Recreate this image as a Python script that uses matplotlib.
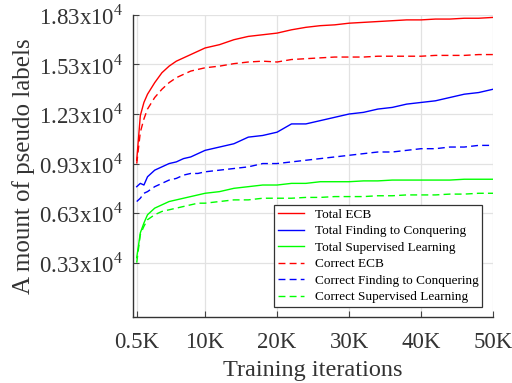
import numpy as np
import matplotlib.pyplot as plt

plt.rcParams['font.family'] = ['Liberation Serif', 'DejaVu Serif']
plt.rcParams['mathtext.fontset'] = 'custom'
plt.rcParams['mathtext.rm'] = 'Liberation Serif'

# training iterations
iters = [500, 1000, 1500, 2000, 3000, 4000, 5000, 6000, 7000, 8000, 9000, 10000,
         12000, 14000, 16000, 18000, 20000, 22000, 24000, 26000, 28000, 30000,
         32000, 34000, 36000, 38000, 40000, 42000, 44000, 46000, 48000, 50000]

# number of pseudo labels (x10^4)
total_ecb = [0.95, 1.22, 1.30, 1.35, 1.42, 1.48, 1.52, 1.55, 1.57, 1.59, 1.61, 1.63,
             1.65, 1.68, 1.70, 1.71, 1.72, 1.74, 1.755, 1.765, 1.77, 1.78,
             1.785, 1.79, 1.795, 1.80, 1.80, 1.805, 1.805, 1.81, 1.81, 1.815]
total_fc = [0.79, 0.81, 0.80, 0.85, 0.89, 0.91, 0.93, 0.94, 0.96, 0.97, 0.99, 1.01,
            1.03, 1.05, 1.09, 1.10, 1.12, 1.17, 1.17, 1.19, 1.21, 1.23,
            1.24, 1.26, 1.27, 1.29, 1.30, 1.31, 1.33, 1.35, 1.36, 1.38]
total_sl = [0.36, 0.51, 0.57, 0.62, 0.66, 0.68, 0.70, 0.71, 0.72, 0.73, 0.74, 0.75,
            0.76, 0.78, 0.79, 0.80, 0.80, 0.81, 0.81, 0.82, 0.82, 0.82,
            0.825, 0.825, 0.83, 0.83, 0.83, 0.83, 0.83, 0.835, 0.835, 0.835]
correct_ecb = [0.93, 1.12, 1.20, 1.26, 1.33, 1.38, 1.42, 1.45, 1.47, 1.49, 1.50, 1.51,
               1.52, 1.535, 1.545, 1.55, 1.545, 1.56, 1.565, 1.57, 1.575, 1.575,
               1.575, 1.58, 1.58, 1.58, 1.58, 1.585, 1.585, 1.585, 1.59, 1.59]
correct_fc = [0.70, 0.72, 0.75, 0.76, 0.79, 0.81, 0.83, 0.84, 0.86, 0.87, 0.87, 0.88,
              0.89, 0.90, 0.91, 0.93, 0.93, 0.94, 0.95, 0.96, 0.97, 0.98,
              0.99, 1.00, 1.00, 1.01, 1.02, 1.02, 1.03, 1.03, 1.04, 1.04]
correct_sl = [0.33, 0.50, 0.55, 0.59, 0.62, 0.64, 0.65, 0.66, 0.67, 0.68, 0.69, 0.69,
              0.70, 0.71, 0.71, 0.72, 0.72, 0.72, 0.725, 0.725, 0.73, 0.73,
              0.73, 0.735, 0.735, 0.74, 0.74, 0.74, 0.745, 0.745, 0.75, 0.75]

names = ['Total ECB', 'Total Finding to Conquering', 'Total Supervised Learning',
         'Correct ECB', 'Correct Finding to Conquering', 'Correct Supervised Learning']

xticks = [500, 10000, 20000, 30000, 40000, 50000]
xticklabels = ['0.5K', '10K', '20K', '30K', '40K', '50K']
yticks = [0.33, 0.63, 0.93, 1.23, 1.53, 1.83]

fig = plt.figure(figsize=(5.12, 3.83), dpi=100)
ax = fig.add_axes([0.26, 0.172, 0.703, 0.789])

x = np.array(iters)
series = [total_ecb, total_fc, total_sl, correct_ecb, correct_fc, correct_sl]
colors = ['#ff0000', '#0000ff', '#00ff00'] * 2
for i, (ys, c, n) in enumerate(zip(series, colors, names)):
    y = np.array(ys) * 1e4
    if i < 3:
        ax.plot(x, y, color=c, lw=1.0, label=n)
    else:
        ax.plot(x, y, color=c, lw=1.0, dashes=(5, 3), label=n)

ax.set_xlim(0, 50000)
ax.set_ylim(0, 18300)
ax.set_xticks(xticks)
ax.set_xticklabels(xticklabels)
ax.set_yticks([v * 1e4 for v in yticks])
ax.set_yticklabels(['%.2fx10$^{4}$' % v for v in yticks])
ax.tick_params(direction='in', labelsize=16.5, length=4, color='#444444',
               labelcolor='#333333')
ax.tick_params(axis='x', pad=11)
ax.tick_params(axis='y', pad=7)
ax.grid(True, color='#e2e2e2', lw=0.9)
for s in ['top', 'right']:
    ax.spines[s].set_visible(False)
for s in ['left', 'bottom']:
    ax.spines[s].set_color('#333333')
    ax.spines[s].set_linewidth(1.0)

ax.set_xlabel('Training iterations', fontsize=17.5, color='#333333', labelpad=5)
ax.set_ylabel('A mount of pseudo labels', fontsize=18, color='#333333', labelpad=3)

leg = ax.legend(loc='lower right', bbox_to_anchor=(0.97, 0.033), fontsize=9.5,
                fancybox=False, framealpha=1, edgecolor='#333333',
                borderaxespad=0, handlelength=2.0, handletextpad=0.8,
                labelspacing=0.32, borderpad=0.3)
leg.get_frame().set_linewidth(0.9)

fig.savefig('out.png', dpi=100)
